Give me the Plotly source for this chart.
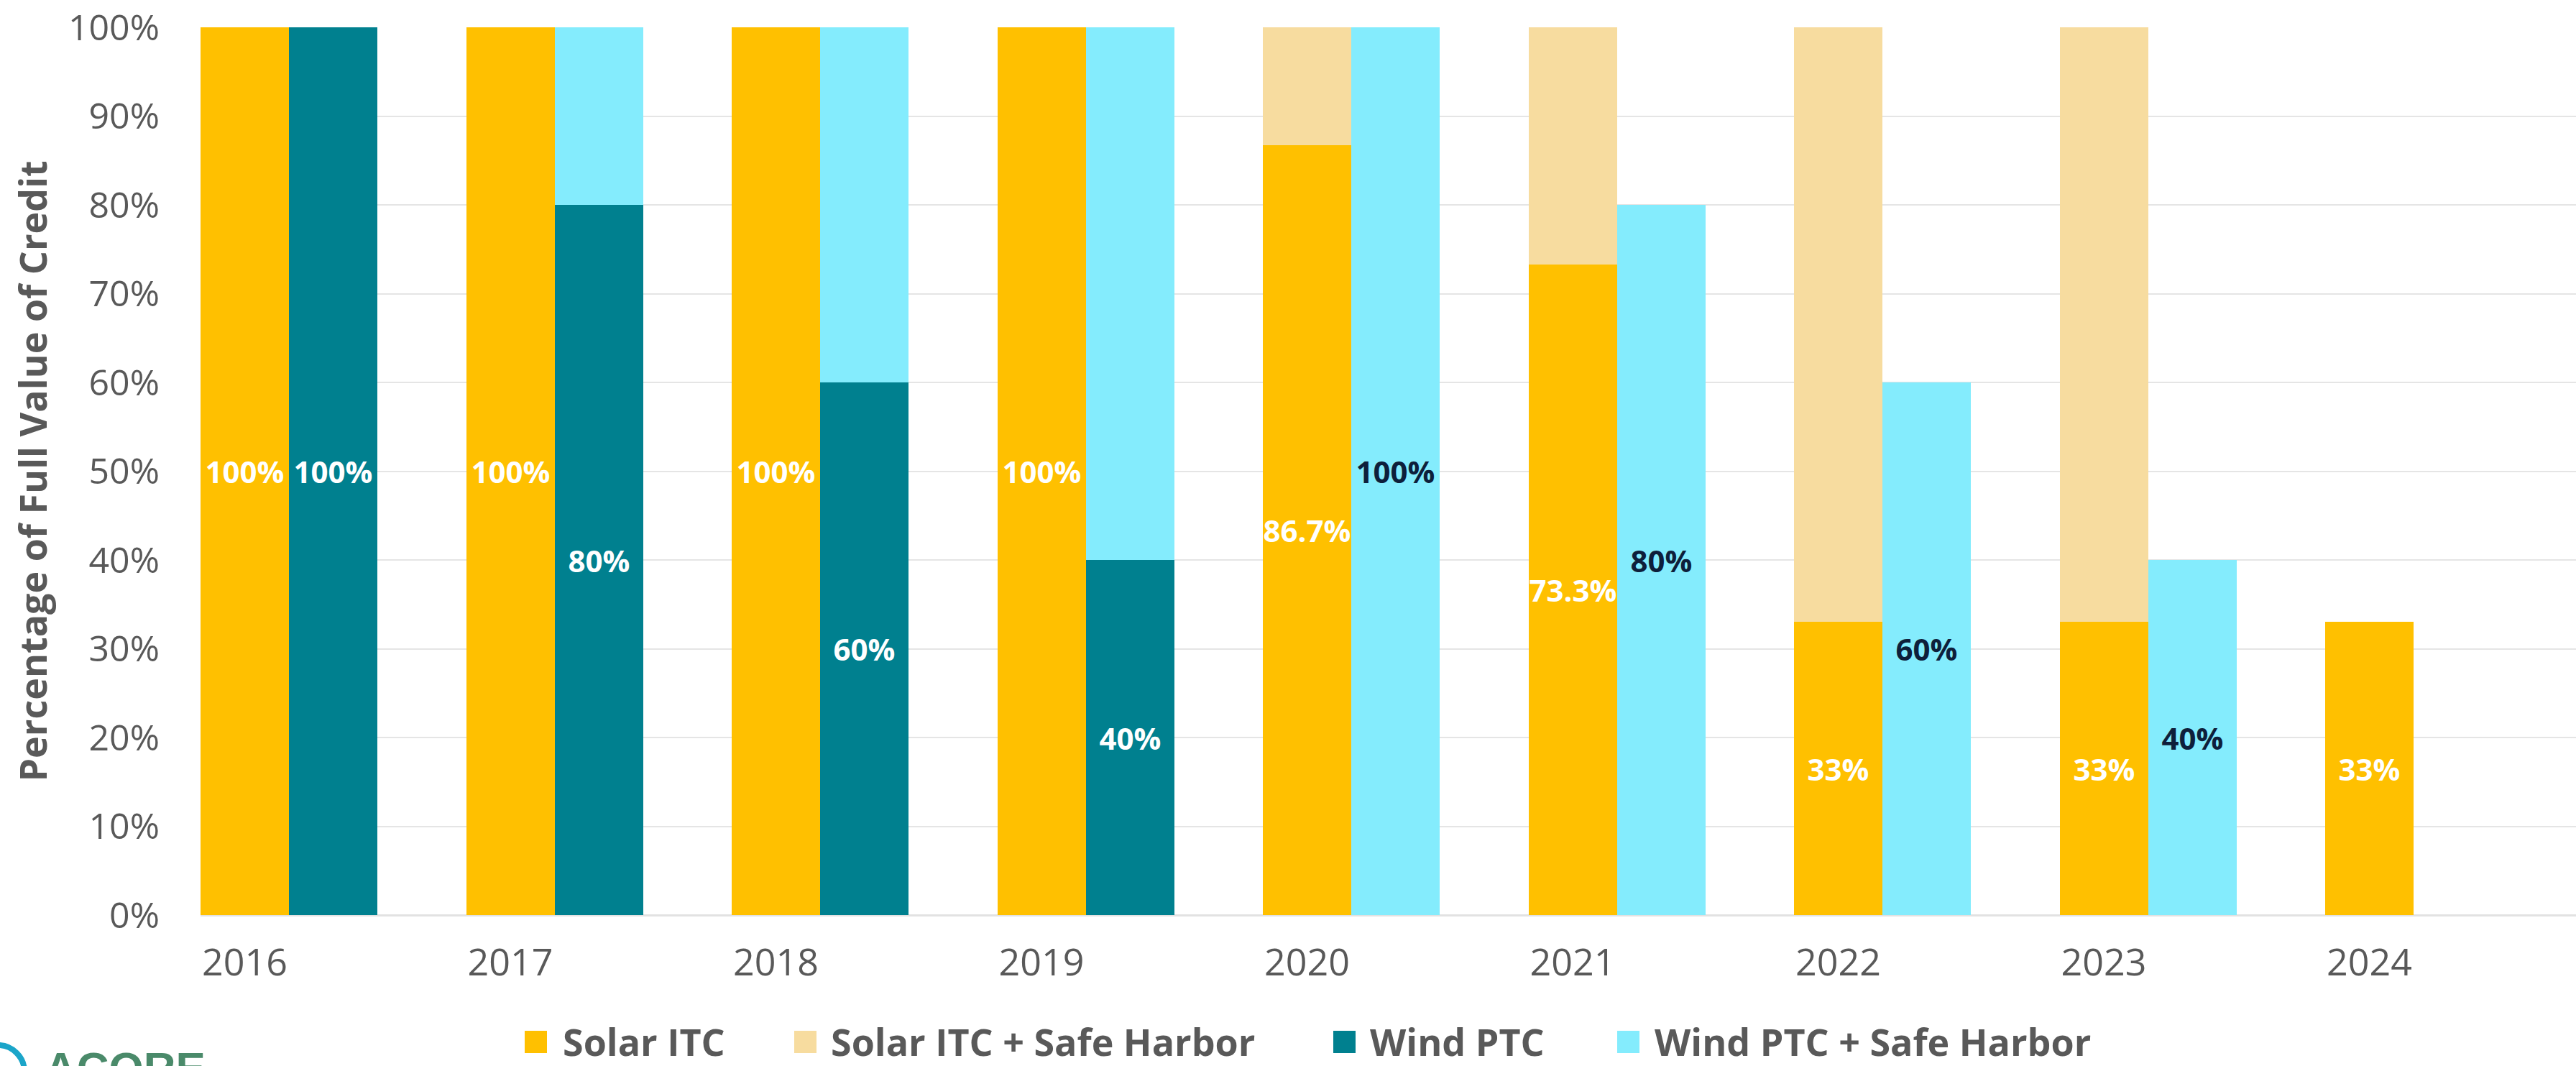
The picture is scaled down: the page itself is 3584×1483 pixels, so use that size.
import plotly.graph_objects as go

# ---- data -------------------------------------------------------------
years = [2016, 2017, 2018, 2019, 2020, 2021, 2022, 2023, 2024]

# share of the full credit value, in percent
solar_itc = [100, 100, 100, 100, 86.7, 73.3, 33, 33, 33]
solar_itc_safe_harbor_total = [None, None, None, None, 100, 100, 100, 100, None]
wind_ptc = [100, 80, 60, 40, None, None, None, None, None]
wind_ptc_safe_harbor_total = [None, 100, 100, 100, 100, 80, 60, 40, None]

series_names = ["Solar ITC", "Solar ITC + Safe Harbor", "Wind PTC", "Wind PTC + Safe Harbor"]
series_colors = ["#FFC000", "#F7DC9F", "#00808F", "#84ECFD"]

# ---- geometry ---------------------------------------------------------
W, H = 3584, 1483
ML, MR, MT, MB = 279, 0, 38, 210
BAR = 1 / 3            # bar width in year units
PX_PER_YEAR = 369.5

GREY = "#595959"
NAVY = "#0E1F3B"


def pct(v):
    return f"{v:g}%"


def px_x(px):
    return (px - ML) / (W - ML - MR)


def px_y(py):
    return (H - MB - py) / (H - MT - MB)


solar_x = [y - BAR / 2 for y in years]
wind_x = [y + BAR / 2 for y in years]

solar_sh_seg = [None if t is None else round(t - s, 1)
                for t, s in zip(solar_itc_safe_harbor_total, solar_itc)]
wind_sh_seg = [None if t is None else round(t - (w or 0), 1)
               for t, w in zip(wind_ptc_safe_harbor_total, wind_ptc)]
wind_sh_text = [pct(t) if (t is not None and w is None) else ""
                for t, w in zip(wind_ptc_safe_harbor_total, wind_ptc)]

bar_font = dict(family="Open Sans", size=42, weight=700)
common = dict(width=BAR, textposition="inside", insidetextanchor="middle",
              constraintext="none", textangle=0, marker_line_width=0,
              showlegend=False, hoverinfo="skip")

fig = go.Figure()
fig.add_trace(go.Bar(name=series_names[0], x=solar_x, y=solar_itc,
                     marker_color=series_colors[0],
                     text=[pct(v) for v in solar_itc],
                     textfont=dict(bar_font, color="white"), **common))
fig.add_trace(go.Bar(name=series_names[1], x=solar_x, y=solar_sh_seg,
                     marker_color=series_colors[1], text=None, **common))
fig.add_trace(go.Bar(name=series_names[2], x=wind_x, y=wind_ptc,
                     marker_color=series_colors[2],
                     text=[pct(v) if v is not None else "" for v in wind_ptc],
                     textfont=dict(bar_font, color="white"), **common))
fig.add_trace(go.Bar(name=series_names[3], x=wind_x, y=wind_sh_seg,
                     marker_color=series_colors[3], text=wind_sh_text,
                     textfont=dict(bar_font, color=NAVY), **common))

x_left = years[0] - BAR
x_right = x_left + (W - ML - MR) / PX_PER_YEAR

# ---- legend drawn as swatches + labels along the bottom ---------------
shapes = []
annotations = []
legend_items = [(730, 781), (1105, 1154), (1855, 1904), (2250, 2300)]
LEG_Y = 1448
for (sx, tx), name, col in zip(legend_items, series_names, series_colors):
    shapes.append(dict(type="rect", xref="paper", yref="paper",
                       x0=px_x(sx), x1=px_x(sx + 31),
                       y0=px_y(LEG_Y - 14), y1=px_y(LEG_Y + 17),
                       fillcolor=col, line_width=0, layer="above"))
    annotations.append(dict(text=name, xref="paper", yref="paper",
                            x=px_x(tx), y=px_y(LEG_Y), xanchor="left", yanchor="middle",
                            height=46, valign="middle", showarrow=False,
                            font=dict(family="Open Sans", size=52, weight=700, color=GREY)))

# ---- ACORE mark in the lower-left corner -------------------------------
shapes.append(dict(type="circle", xref="paper", yref="paper",
                   x0=px_x(-40), x1=px_x(34), y0=px_y(1454), y1=px_y(1528),
                   line=dict(color="#1BA5C9", width=8), fillcolor="rgba(0,0,0,0)"))
annotations.append(dict(text="ACORE", xref="paper", yref="paper",
                        x=px_x(60), y=px_y(1449), xanchor="left", yanchor="top",
                        showarrow=False,
                        font=dict(family="Liberation Sans", size=62, weight=700,
                                  color="#4A8A6A")))

fig.update_layout(
    width=W, height=H,
    margin=dict(l=ML, r=MR, t=MT, b=MB, pad=0),
    paper_bgcolor="white", plot_bgcolor="white",
    barmode="stack", bargap=0,
    font=dict(family="Open Sans", color=GREY),
    shapes=shapes, annotations=annotations,
    xaxis=dict(range=[x_left, x_right], tickmode="array",
               tickvals=solar_x, ticktext=[str(y) for y in years],
               showgrid=False, zeroline=False, showline=False, ticks="",
               tickfont=dict(family="Open Sans", size=52, color=GREY),
               ticklabelstandoff=31),
    yaxis=dict(range=[0, 100], dtick=10, ticksuffix="%",
               showgrid=True, gridcolor="#E5E5E5", gridwidth=2,
               zeroline=True, zerolinecolor="#E2E2E2", zerolinewidth=3,
               showline=False, ticks="",
               tickfont=dict(family="Open Sans", size=50, color=GREY),
               ticklabelstandoff=56,
               title=dict(text="Percentage of Full Value of Credit", standoff=12,
                          font=dict(family="Liberation Sans Narrow, Open Sans",
                                    size=52, weight=700, color=GREY))),
)

fig.write_html("out.html")
